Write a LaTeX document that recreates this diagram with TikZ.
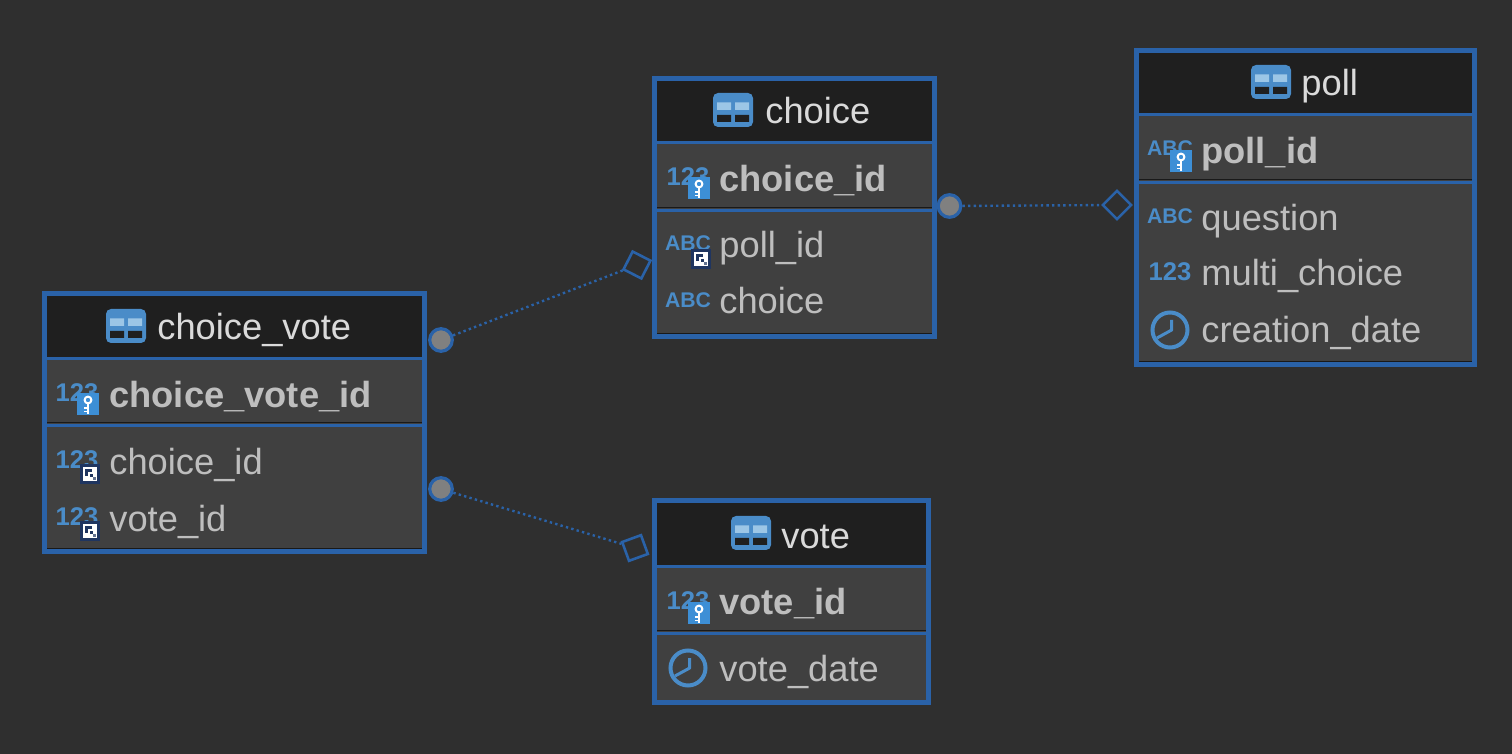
\documentclass[tikz,border=0pt]{standalone}
\usepackage{fontspec}
\setmainfont{Liberation Sans}
\definecolor{bgc}{HTML}{2F2F2F}
\definecolor{headc}{HTML}{1F1F1F}
\definecolor{rowc}{HTML}{404040}
\definecolor{edgec}{HTML}{2A62A8}
\definecolor{iconc}{HTML}{4A8CC8}
\definecolor{keyc}{HTML}{3D8FD6}
\definecolor{lightc}{HTML}{9CC6E6}
\definecolor{txtc}{HTML}{BEBEBE}
\definecolor{headtxt}{HTML}{DADADA}
\definecolor{navyc}{HTML}{1F3560}
\definecolor{dotc}{HTML}{808080}
\tikzset{
  x=0.5pt,y=-0.5pt,
  tableframe/.style={draw=edgec,line width=2.2pt,fill=none,rectangle,inner sep=0pt},
  sepline/.style={draw=edgec,line width=1.5pt},
  darkline/.style={draw=black!90,line width=0.5pt},
  coltxt/.style={anchor=base west,inner sep=0pt,yshift=-0.5pt,text=txtc,font=\fontsize{18.15}{20}\selectfont},
  keytxt/.style={coltxt,font=\fontsize{18.15}{20}\selectfont\bfseries},
  headertxt/.style={coltxt,text=headtxt},
  numtxt/.style={text=iconc,inner sep=0pt,font=\fontsize{12.8}{14}\selectfont\bfseries},
  abctxt/.style={text=iconc,inner sep=0pt,font=\fontsize{10.6}{12}\selectfont\bfseries},
  enddot/.style={circle,draw=edgec,fill=dotc,line width=1.6pt,minimum size=11.3pt,inner sep=0pt},
  enddia/.style={rectangle,draw=edgec,fill=none,line width=1.3pt,minimum size=10pt,inner sep=0pt},
  rel/.style={draw=edgec,line width=1.2pt,dash pattern=on 1.2pt off 1.6pt},
  tableicon/.pic={
    \fill[iconc,rounded corners=2.5pt] (-20,-17) rectangle (20,17);
    \fill[lightc] (-16,-7.5) rectangle (-2,0) (2,-7.5) rectangle (16,0);
    \fill[headc] (-16,5) rectangle (-2,12) (2,5) rectangle (16,12);
  },
  keyicon/.pic={
    \fill[keyc] (0,0) rectangle (22,22);
    \draw[white,line width=1pt] (11,7) circle[radius=3.4];
    \draw[white,line width=1.2pt] (11,10.5) -- (11,21);
    \draw[white,line width=0.8pt] (11,15) -- (6.5,15) (11,18.5) -- (6.5,18.5);
  },
  fkicon/.pic={
    \fill[navyc] (0,0) rectangle (20,20);
    \fill[white] (3,3) rectangle (17,17);
    \fill[navyc] (5,5) rectangle (12,12);
    \fill[white] (8,8) rectangle (12,12);
    \fill[navyc] (10,10) rectangle (13,13);
    \fill[navyc!70!white] (13,13) rectangle (16,16);
  },
  clockicon/.pic={
    \draw[iconc,line width=2pt] (0,0) circle[radius=17.5];
    \draw[iconc,line width=1.5pt,line join=round] (1.7,-10) -- (1.7,0) -- (-13,8);
  }
}
% name, left, top, right, bottom (centre line of the frame), separators 1 and 2
\newcommand{\dbtable}[7]{%
  \fill[rowc] (#2,#3) rectangle (#4,#5);
  \fill[headc] (#2,#3) rectangle (#4,#6);
  \draw[darkline] (#2,#7-3) -- (#4,#7-3);
  \draw[darkline] (#2,#5-2.5) -- (#4,#5-2.5);
  \draw[sepline] (#2,#6) -- (#4,#6);
  \draw[sepline] (#2,#7) -- (#4,#7);
  \node[tableframe,minimum width=#4*0.5pt-#2*0.5pt,minimum height=#5*0.5pt-#3*0.5pt] (#1) at ({(#2+#4)/2},{(#3+#5)/2}) {};
}
\begin{document}
\begin{tikzpicture}
\fill[bgc] (0,0) rectangle (1512,754);
\useasboundingbox (0,0) rectangle (1512,754);

% tables
\dbtable{choice}{654.5}{78.5}{934.5}{336.5}{143}{211}
\dbtable{poll}{1136.5}{50.5}{1474.5}{364.5}{115}{183}
\dbtable{choicevote}{44.5}{293.5}{424.5}{551.5}{359}{426}
\dbtable{vote}{654.5}{500.5}{928.5}{702.5}{567}{633}

% table choice
\pic at (733,110) {tableicon};
\node[headertxt] (choiceh) at (765,123) {choice};
\node[numtxt] (choice1i) at (688,177) {123};
\pic at (688,177) {keyicon};
\node[keytxt] (choice1) at (719,191) {choice\_id};
\node[abctxt] (choice2i) at (688,243) {ABC};
\pic at (691,249) {fkicon};
\node[coltxt] (choice2) at (719,257) {poll\_id};
\node[abctxt] (choice3i) at (688,300) {ABC};
\node[coltxt] (choice3) at (719,313) {choice};

% table poll
\pic at (1271,82) {tableicon};
\node[headertxt] (pollh) at (1301,95) {poll};
\node[abctxt] (poll1i) at (1170,148) {ABC};
\pic at (1170,150) {keyicon};
\node[keytxt] (poll1) at (1201,163) {poll\_id};
\node[abctxt] (poll2i) at (1170,216) {ABC};
\node[coltxt] (poll2) at (1201,230) {question};
\node[numtxt] (poll3i) at (1170,272) {123};
\node[coltxt] (poll3) at (1201,285) {multi\_choice};
\pic at (1170,330) {clockicon};
\node[coltxt] (poll4) at (1201,342) {creation\_date};

% table choice_vote
\pic at (126,326) {tableicon};
\node[headertxt] (cvh) at (157,339) {choice\_vote};
\node[numtxt] (cv1i) at (77,393) {123};
\pic at (77,393) {keyicon};
\node[keytxt] (cv1) at (109,407) {choice\_vote\_id};
\node[numtxt] (cv2i) at (77,460) {123};
\pic at (80,464) {fkicon};
\node[coltxt] (cv2) at (109,473) {choice\_id};
\node[numtxt] (cv3i) at (77,517) {123};
\pic at (80,521) {fkicon};
\node[coltxt] (cv3) at (109,530) {vote\_id};

% table vote
\pic at (751,533) {tableicon};
\node[headertxt] (voteh) at (781,547) {vote};
\node[numtxt] (vote1i) at (688,601) {123};
\pic at (688,602) {keyicon};
\node[keytxt] (vote1) at (719,613) {vote\_id};
\pic at (688,668) {clockicon};
\node[coltxt] (vote2) at (719,681) {vote\_date};

% relation ends
\node[enddot] (dchoice) at (949.5,206) {};
\node[enddia,rotate=45] (apoll) at (1117,205) {};
\node[enddot] (dcv1) at (441,340) {};
\node[enddia,rotate=-27] (achoice) at (637,265) {};
\node[enddot] (dcv2) at (441,489) {};
\node[enddia,rotate=20] (avote) at (635,548) {};

% relations
\draw[rel] (dchoice) -- (apoll);
\draw[rel] (dcv1) -- (achoice);
\draw[rel] (dcv2) -- (avote);
\end{tikzpicture}
\end{document}
